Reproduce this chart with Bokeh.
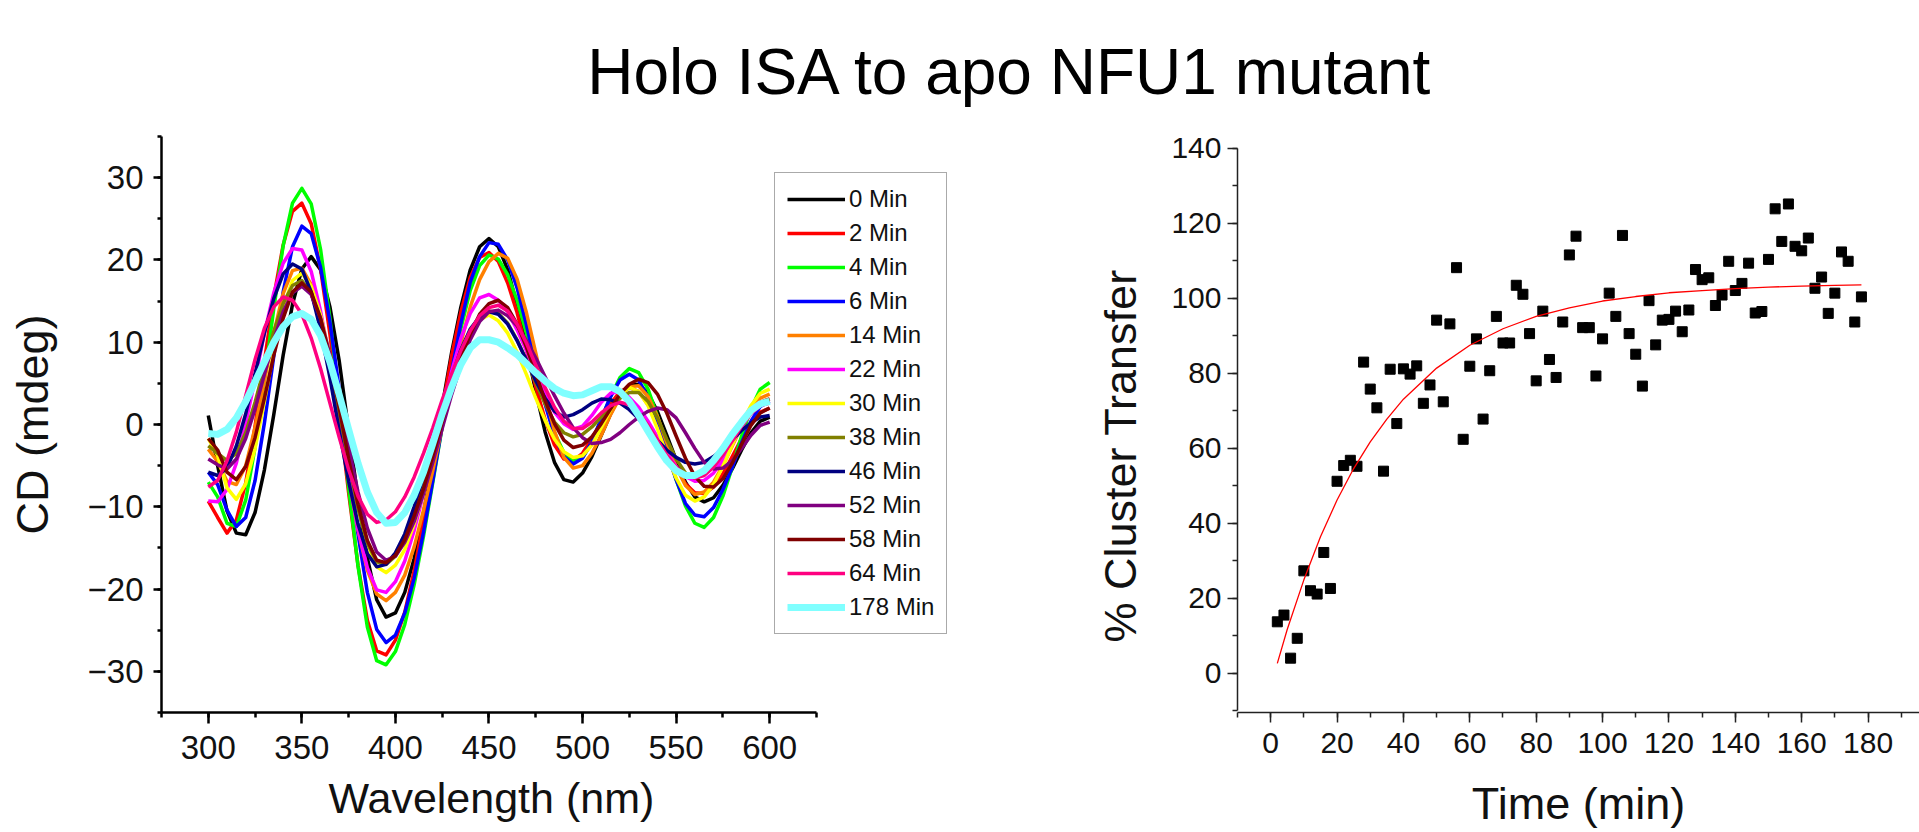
from bokeh.plotting import figure
from bokeh.models import Range1d, SingleIntervalTicker, Label, Title
from bokeh.layouts import column, row
from bokeh.embed import file_html
from bokeh.resources import INLINE

FONT = "Liberation Sans"
TITLE = "Holo ISA to apo NFU1 mutant"

# ---------------- left panel data: CD spectra ----------------
wavelength = [300, 305, 310, 315, 320, 325, 330, 335, 340, 345, 350, 355, 360, 365, 370,
              375, 380, 385, 390, 395, 400, 405, 410, 415, 420, 425, 430, 435, 440, 445,
              450, 455, 460, 465, 470, 475, 480, 485, 490, 495, 500, 505, 510, 515, 520,
              525, 530, 535, 540, 545, 550, 555, 560, 565, 570, 575, 580, 585, 590, 595, 600]

series_labels = ["0 Min", "2 Min", "4 Min", "6 Min", "14 Min", "22 Min", "30 Min",
                 "38 Min", "46 Min", "52 Min", "58 Min", "64 Min", "178 Min"]

cd_0 = [1.1,-5.0,-10.5,-13.2,-13.4,-10.7,-5.5,1.2,8.4,14.6,18.9,20.4,18.8,14.3,7.7,-0.7,-9.0,-16.2,-21.3,-23.4,-22.9,-20.4,-16.3,-10.8,-4.5,2.2,8.7,14.3,18.8,21.6,22.6,21.6,18.8,14.5,9.4,4.0,-0.9,-4.6,-6.7,-7.0,-5.9,-3.9,-1.3,1.3,3.5,4.8,4.9,3.8,1.6,-1.3,-4.3,-7.0,-8.8,-9.4,-8.9,-7.4,-5.4,-3.1,-1.0,0.4,0.9]
cd_2 = [-9.3,-11.3,-13.2,-11.6,-7.1,-0.2,7.7,15.5,21.8,25.9,26.9,24.4,18.9,11.0,1.4,-8.3,-17.1,-23.8,-27.5,-28.0,-26.2,-22.8,-17.8,-11.7,-5.0,1.8,8.3,13.7,17.9,20.3,20.9,19.8,17.2,13.6,9.1,4.6,0.6,-2.5,-4.2,-4.4,-3.5,-1.7,0.4,2.5,4.0,4.5,4.0,2.4,0.1,-2.5,-5.1,-7.2,-8.3,-8.4,-7.6,-6.0,-3.9,-1.7,0.2,1.5,2.0]
cd_4 = [-7.0,-8.8,-12.0,-12.4,-9.2,-2.8,5.4,14.1,21.7,26.9,28.7,26.8,21.3,12.9,2.8,-7.7,-17.2,-24.6,-28.7,-29.2,-27.6,-24.3,-19.5,-13.6,-7.0,-0.3,6.2,11.7,16.3,19.3,20.6,20.1,18.2,15.1,11.1,6.7,2.6,-1.0,-3.4,-4.5,-4.0,-2.2,0.6,3.4,5.7,6.8,6.3,4.3,1.0,-2.9,-6.7,-9.9,-12.0,-12.5,-11.3,-8.7,-5.2,-1.4,1.9,4.3,5.1]
cd_6 = [-5.8,-7.3,-10.4,-12.4,-11.3,-6.8,0.2,8.3,16.1,21.6,24.1,23.2,19.1,12.5,4.3,-4.7,-13.3,-20.4,-24.9,-26.5,-25.6,-22.9,-18.7,-13.1,-6.8,-0.2,6.4,12.3,17.3,20.4,22.1,21.9,20.0,16.6,12.1,7.2,2.5,-1.4,-3.9,-4.8,-4.1,-2.1,0.7,3.4,5.4,6.1,5.4,3.3,0.2,-3.3,-6.7,-9.6,-11.0,-11.2,-10.1,-7.9,-5.2,-2.2,0.4,2.2,2.8]
cd_14 = [-3.0,-4.5,-6.9,-7.3,-5.0,-0.4,5.3,11.1,15.9,18.7,19.0,17.0,12.8,6.9,0.3,-6.6,-12.8,-17.7,-20.6,-21.4,-20.4,-18.3,-14.9,-10.4,-5.6,-0.3,5.1,9.9,14.3,17.6,19.8,20.8,20.2,17.7,13.6,8.7,3.6,-0.8,-4.0,-5.3,-5.0,-3.5,-1.3,1.2,3.3,4.6,4.7,3.4,1.0,-2.2,-5.2,-7.4,-8.5,-8.2,-7.0,-5.0,-2.6,-0.2,1.8,3.2,3.7]
cd_22 = [-9.3,-9.4,-7.9,-4.7,0.1,5.5,11.1,16.0,19.6,21.4,21.2,18.6,13.8,7.7,0.6,-6.5,-12.7,-17.4,-20.1,-20.4,-19.1,-16.6,-12.9,-8.4,-3.4,1.7,6.4,10.5,13.5,15.4,15.8,15.1,13.7,11.5,9.0,6.2,3.7,1.5,0.1,-0.6,-0.2,1.1,2.7,3.8,4.0,3.3,2.1,0.4,-1.5,-3.4,-5.1,-6.3,-6.9,-6.8,-5.9,-4.3,-2.4,-0.3,1.5,2.7,3.1]
cd_30 = [-1.7,-3.8,-7.7,-9.1,-7.2,-2.9,2.8,8.9,14.2,17.5,18.4,16.8,13.3,8.3,2.1,-4.2,-9.9,-14.5,-17.3,-18.0,-17.1,-15.2,-12.1,-8.3,-4.1,0.3,4.4,8.1,10.9,12.7,13.3,12.6,11.1,8.8,6.1,3.2,0.5,-1.8,-3.3,-4.0,-3.8,-2.5,-0.4,1.8,3.7,4.5,4.0,2.3,-0.5,-3.7,-6.5,-8.6,-9.3,-8.8,-7.3,-5.1,-2.5,0.1,2.3,3.8,4.3]
cd_38 = [-2.6,-3.5,-4.4,-3.5,-1.0,2.7,7.0,11.3,14.7,16.9,17.5,15.9,12.4,7.5,1.4,-4.6,-10.2,-14.4,-16.7,-17.0,-16.0,-13.9,-11.0,-7.3,-3.3,0.9,4.9,8.3,11.1,13.0,13.8,13.5,12.3,10.3,7.8,5.1,2.5,0.3,-1.0,-1.5,-1.2,-0.3,0.9,2.1,3.2,3.9,3.9,2.8,0.8,-1.8,-4.2,-5.9,-6.5,-6.1,-5.1,-3.5,-1.7,0.1,1.7,2.7,3.1]
cd_46 = [-5.8,-6.2,-5.3,-2.6,1.3,6.2,11.1,15.3,18.3,19.5,18.9,16.1,11.5,5.7,-0.8,-6.9,-12.1,-15.7,-17.3,-17.0,-15.6,-13.3,-10.0,-6.3,-2.2,1.9,5.7,9.1,11.6,13.1,13.7,13.4,12.2,10.2,7.8,5.3,3.2,1.6,0.9,1.2,1.8,2.6,3.1,3.0,2.6,1.8,0.7,-0.6,-1.9,-3.1,-4.0,-4.6,-4.8,-4.6,-3.9,-3.0,-1.9,-0.7,0.2,0.9,1.1]
cd_52 = [-4.2,-4.9,-5.4,-4.2,-1.7,1.9,6.1,10.3,13.7,16.0,16.8,15.8,12.9,8.5,3.0,-2.7,-8.2,-12.6,-15.5,-16.5,-16.0,-14.3,-11.8,-8.4,-4.6,-0.5,3.6,7.2,10.3,12.5,13.7,13.9,13.2,12.0,10.2,8.1,5.8,3.5,1.4,-0.4,-1.6,-2.3,-2.2,-1.8,-1.0,0.0,0.9,1.6,2.0,1.8,0.8,-1.0,-2.9,-4.6,-5.4,-5.3,-4.4,-2.9,-1.3,-0.1,0.3]
cd_58 = [-1.7,-3.1,-5.8,-6.7,-5.1,-1.6,3.2,8.4,12.9,16.1,17.2,16.1,12.9,7.9,2.0,-4.2,-9.7,-14.1,-16.5,-16.8,-15.9,-14.0,-11.1,-7.8,-3.8,0.3,4.4,8.0,11.0,13.4,14.7,15.1,14.2,12.2,9.4,6.2,2.9,0.1,-1.9,-2.8,-2.5,-1.5,0.1,1.9,3.7,4.9,5.5,5.1,3.7,1.4,-1.4,-4.1,-6.3,-7.5,-7.6,-6.6,-4.7,-2.4,-0.1,1.4,2.0]
cd_64 = [-7.6,-6.8,-4.4,-0.9,3.5,7.9,11.7,14.3,15.5,15.1,13.4,10.5,6.8,2.6,-1.6,-5.5,-8.7,-10.9,-11.9,-11.6,-10.6,-8.8,-6.4,-3.5,-0.4,3.0,6.1,9.0,11.4,13.2,14.2,14.5,13.8,12.2,9.9,7.2,4.5,2.1,0.4,-0.5,-0.5,0.3,1.4,2.3,2.7,2.4,1.4,-0.1,-1.9,-3.7,-5.2,-6.1,-6.5,-6.2,-5.2,-3.7,-2.0,-0.2,1.3,2.3,2.6]
cd_178 = [-1.1,-1.2,-0.6,0.8,2.8,5.2,7.6,10.0,11.9,13.1,13.5,12.8,10.8,7.6,3.6,-0.6,-4.7,-8.2,-10.7,-12.0,-11.9,-10.7,-8.6,-5.8,-2.3,1.3,4.5,7.3,9.3,10.3,10.3,10.0,9.3,8.5,7.4,6.3,5.3,4.4,3.8,3.5,3.6,4.1,4.6,4.6,4.0,2.8,1.1,-0.8,-2.7,-4.4,-5.6,-6.2,-6.2,-5.6,-4.4,-2.9,-1.2,0.3,1.7,2.5,2.8]

cd_series = [cd_0, cd_2, cd_4, cd_6, cd_14, cd_22, cd_30, cd_38, cd_46, cd_52, cd_58, cd_64, cd_178]

# ---------------- right panel data: cluster transfer ----------------
time_min = [2, 4, 6, 8, 10, 12, 14, 16, 18, 20, 22, 24, 26, 28, 30, 32, 34, 36, 38, 40,
            42, 44, 46, 48, 50, 52, 54, 56, 58, 60, 62, 64, 66, 68, 70, 72, 74, 76, 78, 80,
            82, 84, 86, 88, 90, 92, 94, 96, 98, 100, 102, 104, 106, 108, 110, 112, 114, 116,
            118, 120, 122, 124, 126, 128, 130, 132, 134, 136, 138, 140, 142, 144, 146, 148,
            150, 152, 154, 156, 158, 160, 162, 164, 166, 168, 170, 172, 174, 176, 178]
transfer_pct = [13.7, 15.5, 4.0, 9.3, 27.3, 22.0, 21.1, 32.2, 22.6, 51.2,
                55.4, 56.8, 55.2, 83.0, 75.8, 70.8, 53.9, 81.1, 66.6, 81.2,
                79.8, 82.0, 72.0, 76.9, 94.2, 72.4, 93.2, 108.2, 62.4, 81.9,
                89.2, 67.8, 80.7, 95.2, 88.1, 88.1, 103.5, 101.1, 90.6, 78.0,
                96.6, 83.7, 78.9, 93.7, 111.6, 116.6, 92.2, 92.2, 79.3, 89.2,
                101.4, 95.2, 116.8, 90.6, 85.1, 76.6, 99.4, 87.6, 94.2, 94.4,
                96.6, 91.1, 96.9, 107.7, 105.0, 105.5, 98.1, 100.9, 109.9, 102.1,
                104.0, 109.4, 96.1, 96.5, 110.4, 123.9, 115.2, 125.2, 113.9, 112.7,
                116.1, 102.7, 105.7, 96.0, 101.4, 112.4, 109.9, 93.7, 100.4]
fit_time = [2, 5, 10, 15, 20, 25, 30, 35, 40, 50, 60, 70, 80, 90, 100, 110, 120, 130,
            140, 150, 160, 170, 178]
fit_pct = [2.6, 11.7, 24.9, 36.4, 46.2, 54.6, 61.7, 67.8, 73.1, 81.4, 87.5, 91.9, 95.2,
           97.5, 99.3, 100.5, 101.5, 102.1, 102.6, 103.0, 103.3, 103.5, 103.6]

# ---------------- styles ----------------
series_colors = ["#000000", "#FF0000", "#00FF00", "#0000FF", "#FF8000", "#FF00FF", "#FFFF00",
                 "#808000", "#000080", "#800080", "#800000", "#FF0080", "#80FFFF"]
series_widths = [3.5, 3.5, 3.5, 3.5, 3.5, 3.5, 3.5, 3.5, 3.5, 3.5, 3.5, 3.5, 7]

# ---------------- title ----------------
tf = figure(width=1919, height=108, x_range=Range1d(0, 1919), y_range=Range1d(0, 108),
            output_backend="svg", toolbar_location=None, min_border=0,
            x_axis_type=None, y_axis_type=None, outline_line_color=None)
tf.xgrid.visible = False
tf.ygrid.visible = False
tf.add_layout(Label(x=1010, y=37, x_units="screen", y_units="screen", text=TITLE,
                    text_font=FONT, text_font_size="64px", text_align="center",
                    text_baseline="middle", text_color="black"))

# ---------------- left: CD spectra ----------------
# frame 161..1016 px (room for the legend); axis drawn only over 275..625 nm
p1 = figure(width=1016, height=724, x_range=Range1d(275, 731.9), y_range=Range1d(-35, 35),
            output_backend="svg", toolbar_location=None,
            min_border_left=161, min_border_right=0, min_border_top=28, min_border_bottom=120,
            outline_line_color=None)
p1.xgrid.visible = False
p1.ygrid.visible = False
for lab, vals, col, lw in zip(series_labels, cd_series, series_colors, series_widths):
    p1.line(wavelength, vals, line_color=col, line_width=lw, line_join="round",
            legend_label=lab)

p1.xaxis.ticker = SingleIntervalTicker(interval=50, num_minor_ticks=2)
p1.yaxis.ticker = SingleIntervalTicker(interval=10, num_minor_ticks=2)
p1.xaxis.bounds = (275, 625)
p1.yaxis.axis_label = "CD (mdeg)"
for ax in (p1.xaxis[0], p1.yaxis[0]):
    ax.axis_line_width = 2.5
    ax.axis_line_color = "black"
    ax.major_tick_line_width = 2.5
    ax.minor_tick_line_width = 2.5
    ax.major_tick_line_color = "black"
    ax.minor_tick_line_color = "black"
    ax.major_tick_in = 0
    ax.minor_tick_in = 0
    ax.major_label_text_font = FONT
    ax.major_label_text_font_size = "33px"
    ax.major_label_text_color = "#111111"
    ax.axis_label_text_font = FONT
    ax.axis_label_text_font_size = "45px"
    ax.axis_label_text_font_style = "normal"
    ax.axis_label_text_color = "#111111"
p1.xaxis.major_tick_out = 11
p1.xaxis.minor_tick_out = 5
p1.xaxis.major_label_standoff = 12
p1.yaxis.major_tick_out = 8
p1.yaxis.minor_tick_out = 4
p1.yaxis.major_label_standoff = 10
p1.yaxis.axis_label_standoff = 27

# x-axis title placed under the drawn axis (275..625 nm), not the wider frame
p1.add_layout(Title(text="Wavelength (nm)", align="left", offset=167, standoff=20,
                    text_font=FONT, text_font_size="43px", text_font_style="normal",
                    text_color="#111111"), "below")

lg = p1.legend[0]
lg.location = (613, 78)
lg.label_text_font = FONT
lg.label_text_font_size = "24px"
lg.label_text_color = "#111111"
lg.glyph_width = 58
lg.glyph_height = 28
lg.label_height = 28
lg.label_standoff = 4
lg.spacing = 6
lg.padding = 12
lg.margin = 0
lg.border_line_color = "#555555"
lg.border_line_width = 1.5
lg.background_fill_color = "white"
lg.background_fill_alpha = 1.0

# ---------------- right: cluster transfer ----------------
p2 = figure(width=903, height=724, x_range=Range1d(-10, 195.5), y_range=Range1d(-10.5, 143.2),
            output_backend="svg", toolbar_location=None,
            min_border_left=221, min_border_right=0, min_border_top=28, min_border_bottom=120,
            outline_line_color=None)
p2.xgrid.visible = False
p2.ygrid.visible = False
p2.scatter(time_min, transfer_pct, marker="square", size=10, fill_color="black",
           line_color="black")
p2.line(fit_time, fit_pct, line_color="#FF0000", line_width=1.3)

p2.xaxis.ticker = SingleIntervalTicker(interval=20, num_minor_ticks=2)
p2.yaxis.ticker = SingleIntervalTicker(interval=20, num_minor_ticks=2)
p2.yaxis.bounds = (-10, 140)
p2.xaxis.axis_label = "Time (min)"
for ax in (p2.xaxis[0], p2.yaxis[0]):
    ax.axis_line_width = 1.5
    ax.axis_line_color = "#222222"
    ax.major_tick_line_width = 1.5
    ax.minor_tick_line_width = 1.5
    ax.major_tick_line_color = "#222222"
    ax.minor_tick_line_color = "#222222"
    ax.major_tick_in = 0
    ax.minor_tick_in = 0
    ax.major_tick_out = 10
    ax.minor_tick_out = 5
    ax.major_label_text_font = FONT
    ax.major_label_text_font_size = "30px"
    ax.major_label_text_color = "#111111"
    ax.axis_label_text_font = FONT
    ax.axis_label_text_font_size = "45px"
    ax.axis_label_text_font_style = "normal"
    ax.axis_label_text_color = "#111111"
p2.xaxis.major_label_standoff = 10
p2.xaxis.axis_label_standoff = 22
p2.yaxis.major_label_standoff = 6

# y-axis title, placed slightly below the frame centre as in the original
p2.add_layout(Title(text="% Cluster Transfer", align="left", offset=70, standoff=46,
                    text_font=FONT, text_font_size="45px", text_font_style="normal",
                    text_color="#111111"), "left")

layout = column(tf, row(p1, p2))
open("out.html", "w").write(file_html(layout, INLINE))
